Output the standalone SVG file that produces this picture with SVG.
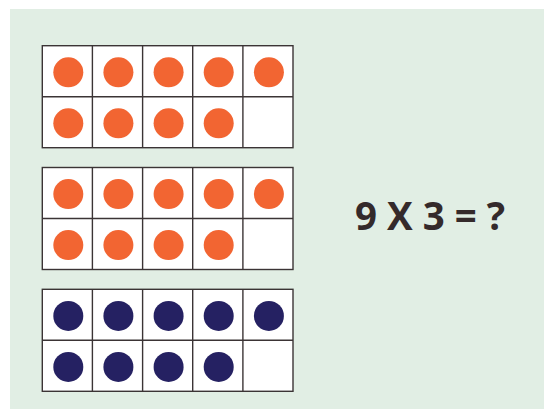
<svg xmlns="http://www.w3.org/2000/svg" width="544" height="409" viewBox="0 0 544 409">
<style>
.cell{fill:#ffffff;stroke:#3b3435;stroke-width:1.4}
.line{stroke:#3b3435;stroke-width:1.4}
.o{fill:#f26532}
.n{fill:#252162}
.eq{font-family:"Open Sans","Liberation Sans",sans-serif;font-weight:bold;font-size:39px;fill:#342a2b}
</style>
<defs>
<g id="frame">
<rect class="cell" x="0" y="0" width="250.7" height="102"/>
<line class="line" x1="0" y1="51" x2="250.7" y2="51"/>
<line class="line" x1="50.1" y1="0" x2="50.1" y2="102"/>
<line class="line" x1="100.3" y1="0" x2="100.3" y2="102"/>
<line class="line" x1="150.4" y1="0" x2="150.4" y2="102"/>
<line class="line" x1="200.6" y1="0" x2="200.6" y2="102"/>
</g>
<g id="dots">
<circle cx="26" cy="26.6" r="15"/>
<circle cx="76.1" cy="26.6" r="15"/>
<circle cx="126.3" cy="26.6" r="15"/>
<circle cx="176.4" cy="26.6" r="15"/>
<circle cx="226.6" cy="26.6" r="15"/>
<circle cx="26" cy="77.6" r="15"/>
<circle cx="76.1" cy="77.6" r="15"/>
<circle cx="126.3" cy="77.6" r="15"/>
<circle cx="176.4" cy="77.6" r="15"/>
</g>
</defs>
<rect x="10" y="9" width="534" height="400" fill="#e1eee4"/>
<g id="frame1" transform="translate(42.3,45.7)">
<use href="#frame"/>
<use href="#dots" class="o"/>
</g>
<g id="frame2" transform="translate(42.3,167.5)">
<use href="#frame"/>
<use href="#dots" class="o"/>
</g>
<g id="frame3" transform="translate(42.3,289.3)">
<use href="#frame"/>
<use href="#dots" class="n"/>
</g>
<g id="equation">
<text class="eq" x="355" y="230" textLength="150" lengthAdjust="spacingAndGlyphs">9 X 3 = ?</text>
</g>
<g id="connectors"/>
</svg>
